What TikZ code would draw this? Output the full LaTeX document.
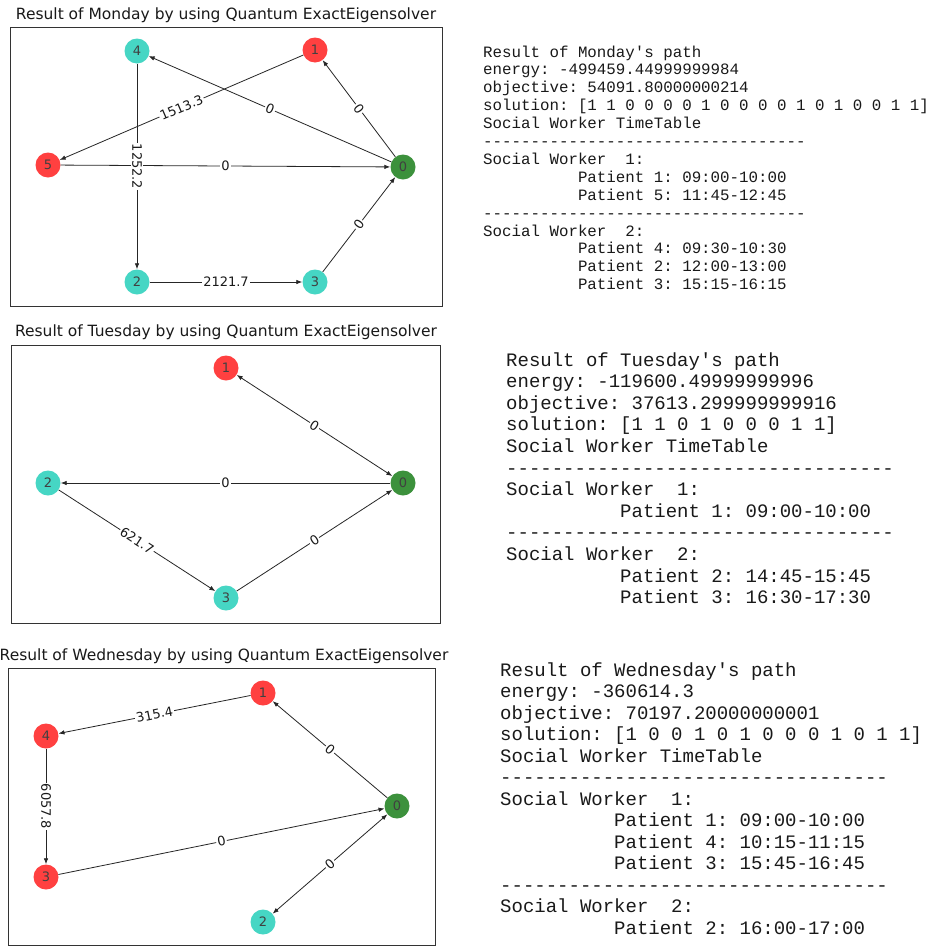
\documentclass[tikz,border=0pt]{standalone}
\usepackage{fontspec}
\newfontfamily\dejavu{DejaVu Sans}
\setmonofont{Liberation Mono}
\usetikzlibrary{arrows.meta}
\definecolor{nred}{RGB}{255,64,64}
\definecolor{nturq}{RGB}{70,214,196}
\definecolor{ngreen}{RGB}{60,145,60}
\tikzset{
  frame/.style={draw=black!80, line width=0.9pt},
  ttl/.style={font=\dejavu\fontsize{15.5}{18}\selectfont, text=black!90, inner sep=0},
  vtx/.style={circle, minimum size=25pt, inner sep=0, draw=none, text=black!75, font=\dejavu\fontsize{13}{15}\selectfont},
  vred/.style={vtx, fill=nred},
  vturq/.style={vtx, fill=nturq},
  vgreen/.style={vtx, fill=ngreen},
  arr/.style={draw=black!85, line width=0.8pt, -{Latex[length=6pt,width=4.5pt]}},
  darr/.style={draw=black!85, line width=0.8pt, {Latex[length=6pt,width=4.5pt]}-{Latex[length=6pt,width=4.5pt]}},
  elbl/.style={sloped, fill=white, inner sep=1.2pt, text=black!90, font=\dejavu\fontsize{13}{15}\selectfont},
  txt/.style={anchor=base west, align=left, inner sep=0, text=black!90},
}
\newcommand{\indt}{\hspace*{6em}}
\begin{document}
\begin{tikzpicture}[x=1pt,y=-1pt]
\useasboundingbox (0,0) rectangle (935,948);
\fill[white] (0,0) rectangle (935,948);

% ---------------- Monday ----------------
\node[ttl] (mt) at (226,15) {Result of Monday by using Quantum ExactEigensolver};
\draw[frame] (10,27) rectangle (442,306);
\node[vturq] (m4) at (137,51) {4};
\node[vred] (m1) at (315,50) {1};
\node[vred] (m5) at (48,165) {5};
\node[vgreen] (m0) at (403,167) {0};
\node[vturq] (m2) at (137,282) {2};
\node[vturq] (m3) at (315,282) {3};
\draw[arr] (m0) -- (m4);
\draw[arr] (m0) -- (m1);
\draw[arr] (m1) -- (m5);
\draw[arr] (m5) -- (m0);
\draw[arr] (m4) -- (m2);
\draw[arr] (m2) -- (m3);
\draw[arr] (m3) -- (m0);
\path (m0) -- node[elbl] (ml1) {0} (m4);
\path (m0) -- node[elbl] (ml2) {0} (m1);
\path (m1) -- node[elbl] (ml3) {1513.3} (m5);
\path (m5) -- node[elbl] (ml4) {0} (m0);
\path (m4) -- node[elbl] (ml5) {1252.2} (m2);
\path (m2) -- node[elbl] (ml6) {2121.7} (m3);
\path (m3) -- node[elbl] (ml7) {0} (m0);

% anchor = baseline of the last line
\node[txt, font=\ttfamily\fontsize{15.8}{17.9}\selectfont] (mtxt) at (483,289.7) {%
Result of Monday's path\\
energy: -499459.44999999984\\
objective: 54091.80000000214\\
solution: [1 1 0 0 0 0 1 0 0 0 0 1 0 1 0 0 1 1]\\
Social Worker TimeTable\\
----------------------------------\\
Social Worker~~1:\\
\indt Patient 1: 09:00-10:00\\
\indt Patient 5: 11:45-12:45\\
----------------------------------\\
Social Worker~~2:\\
\indt Patient 4: 09:30-10:30\\
\indt Patient 2: 12:00-13:00\\
\indt Patient 3: 15:15-16:15};

% ---------------- Tuesday ----------------
\node[ttl] (tt) at (226,332) {Result of Tuesday by using Quantum ExactEigensolver};
\draw[frame] (11,345) rectangle (440,623);
\node[vred] (t1) at (226,368) {1};
\node[vturq] (t2) at (48,483) {2};
\node[vgreen] (t0) at (403,483) {0};
\node[vturq] (t3) at (226,598) {3};
\draw[darr] (t1) -- (t0);
\draw[arr] (t0) -- (t2);
\draw[arr] (t2) -- (t3);
\draw[arr] (t3) -- (t0);
\path (t1) -- node[elbl] (tl1) {0} (t0);
\path (t0) -- node[elbl] (tl2) {0} (t2);
\path (t2) -- node[elbl] (tl3) {621.7} (t3);
\path (t3) -- node[elbl] (tl4) {0} (t0);

\node[txt, font=\ttfamily\fontsize{19}{21.6}\selectfont] (ttxt) at (506,603.6) {%
Result of Tuesday's path\\
energy: -119600.49999999996\\
objective: 37613.299999999916\\
solution: [1 1 0 1 0 0 0 1 1]\\
Social Worker TimeTable\\
----------------------------------\\
Social Worker~~1:\\
\indt Patient 1: 09:00-10:00\\
----------------------------------\\
Social Worker~~2:\\
\indt Patient 2: 14:45-15:45\\
\indt Patient 3: 16:30-17:30};

% ---------------- Wednesday ----------------
\node[ttl] (wt) at (224,656) {Result of Wednesday by using Quantum ExactEigensolver};
\draw[frame] (8,668) rectangle (435,945);
\node[vred] (w1) at (263,693) {1};
\node[vred] (w4) at (46,736) {4};
\node[vgreen] (w0) at (397,806) {0};
\node[vred] (w3) at (46,877) {3};
\node[vturq] (w2) at (263,922) {2};
\draw[arr] (w0) -- (w1);
\draw[arr] (w1) -- (w4);
\draw[arr] (w4) -- (w3);
\draw[arr] (w3) -- (w0);
\draw[darr] (w0) -- (w2);
\path (w0) -- node[elbl] (wl1) {0} (w1);
\path (w1) -- node[elbl] (wl2) {315.4} (w4);
\path (w4) -- node[elbl] (wl3) {6057.8} (w3);
\path (w3) -- node[elbl] (wl4) {0} (w0);
\path (w0) -- node[elbl] (wl5) {0} (w2);

\node[txt, font=\ttfamily\fontsize{19}{21.5}\selectfont] (wtxt) at (500,934) {%
Result of Wednesday's path\\
energy: -360614.3\\
objective: 70197.20000000001\\
solution: [1 0 0 1 0 1 0 0 0 1 0 1 1]\\
Social Worker TimeTable\\
----------------------------------\\
Social Worker~~1:\\
\indt Patient 1: 09:00-10:00\\
\indt Patient 4: 10:15-11:15\\
\indt Patient 3: 15:45-16:45\\
----------------------------------\\
Social Worker~~2:\\
\indt Patient 2: 16:00-17:00};
\end{tikzpicture}
\end{document}
